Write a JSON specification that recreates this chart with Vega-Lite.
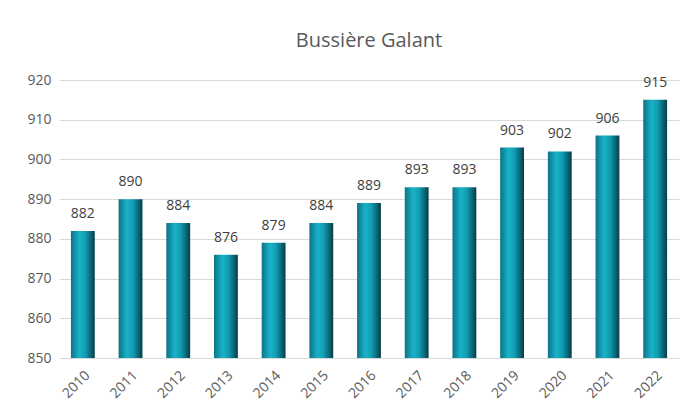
{
  "$schema": "https://vega.github.io/schema/vega-lite/v6.json",
  "width": 620,
  "height": 278,
  "autosize": {"type": "none"},
  "padding": {"left": 59, "top": 80, "right": 19, "bottom": 54},
  "background": "white",
  "title": {
    "text": "Bussière Galant",
    "font": "Open Sans",
    "fontSize": 20,
    "fontWeight": "normal",
    "color": "#595959",
    "anchor": "middle",
    "offset": 22
  },
  "data": {
    "values": [
      {"annee": "2010", "pop": 882},
      {"annee": "2011", "pop": 890},
      {"annee": "2012", "pop": 884},
      {"annee": "2013", "pop": 876},
      {"annee": "2014", "pop": 879},
      {"annee": "2015", "pop": 884},
      {"annee": "2016", "pop": 889},
      {"annee": "2017", "pop": 893},
      {"annee": "2018", "pop": 893},
      {"annee": "2019", "pop": 903},
      {"annee": "2020", "pop": 902},
      {"annee": "2021", "pop": 906},
      {"annee": "2022", "pop": 915}
    ]
  },
  "encoding": {
    "x": {
      "field": "annee",
      "type": "ordinal",
      "title": null,
      "scale": {"paddingInner": 0.5, "paddingOuter": 0.25},
      "axis": {
        "labelAngle": -45,
        "labelFont": "Open Sans",
        "labelFontSize": 14,
        "labelColor": "#595959",
        "ticks": false,
        "domain": false,
        "labelPadding": 10
      }
    },
    "y": {
      "field": "pop",
      "type": "quantitative",
      "title": null,
      "scale": {"domain": [850, 920], "zero": false, "nice": false},
      "axis": {
        "values": [850, 860, 870, 880, 890, 900, 910, 920],
        "labelFont": "Open Sans",
        "labelFontSize": 14,
        "labelColor": "#595959",
        "ticks": false,
        "domain": false,
        "labelPadding": 8,
        "gridColor": "#d9d9d9",
        "gridWidth": 1
      }
    }
  },
  "layer": [
    {
      "mark": {
        "type": "bar",
        "color": {
          "gradient": "linear",
          "x1": 0, "x2": 1, "y1": 0, "y2": 0,
          "stops": [
            {"offset": 0, "color": "#0a7486"},
            {"offset": 0.35, "color": "#1ab2c8"},
            {"offset": 0.6, "color": "#119db2"},
            {"offset": 0.85, "color": "#0a6272"},
            {"offset": 1, "color": "#063c47"}
          ]
        }
      },
      "encoding": {"y2": {"datum": 850}}
    },
    {
      "mark": {
        "type": "text",
        "baseline": "bottom",
        "dy": -10,
        "font": "Open Sans",
        "fontSize": 14,
        "color": "#404040"
      },
      "encoding": {"text": {"field": "pop", "type": "quantitative"}}
    }
  ],
  "config": {"view": {"stroke": null}}
}
